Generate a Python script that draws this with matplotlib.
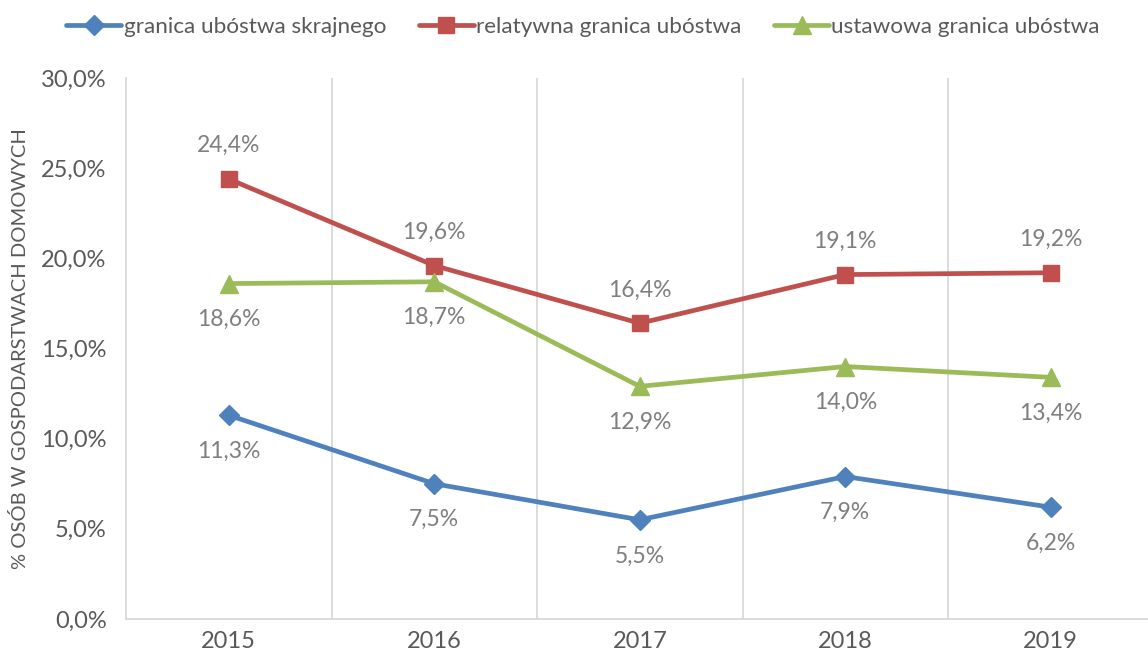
import matplotlib
matplotlib.use("Agg")
import matplotlib.pyplot as plt
from matplotlib.ticker import FuncFormatter, MultipleLocator

years = ["2015", "2016", "2017", "2018", "2019"]
skrajne = [11.3, 7.5, 5.5, 7.9, 6.2]
relatywna = [24.4, 19.6, 16.4, 19.1, 19.2]
ustawowa = [18.6, 18.7, 12.9, 14.0, 13.4]

plt.rcParams['font.family'] = ['Lato', 'DejaVu Sans']
TXT = '#595959'
LBL = '#7F7F7F'
GRID = '#D9D9D9'

fig = plt.figure(figsize=(11.48, 6.55), dpi=100)
ax = fig.add_axes([126/1148, 1 - 619/655, (1153.5 - 126)/1148, (619 - 78)/655])

x = list(range(len(years)))
series = [
    ("granica ubóstwa skrajnego", skrajne, '#4F81BD', 'D', 10.5, 'below'),
    ("relatywna granica ubóstwa", relatywna, '#C0504D', 's', 12, 'above'),
    ("ustawowa granica ubóstwa", ustawowa, '#9BBB59', '^', 12.5, 'below'),
]
for name, vals, col, mk, ms, pos in series:
    ax.plot(x, vals, color=col, lw=3.4, marker=mk, ms=ms, label=name, zorder=3,
            solid_capstyle='round')
    for xi, v in zip(x, vals):
        off = 1.85 if pos == 'above' else -2.0
        ax.text(xi, v + off, f"{v:.1f}%".replace('.', ','), ha='center', va='center',
                fontsize=16.5, color=LBL)

ax.set_xlim(-0.5, 4.5)
ax.set_ylim(0, 30)
ax.set_xticks(x)
ax.set_xticklabels(years)
ax.yaxis.set_major_locator(MultipleLocator(5))
ax.yaxis.set_major_formatter(FuncFormatter(lambda v, p: f"{v:.1f}%".replace('.', ',')))
for gx in [0.5, 1.5, 2.5, 3.5]:
    ax.axvline(gx, color=GRID, lw=1.3, zorder=1)
for s in ['top', 'right']:
    ax.spines[s].set_visible(False)
for s in ['left', 'bottom']:
    ax.spines[s].set_color(GRID)
    ax.spines[s].set_linewidth(1.3)
ax.tick_params(axis='both', length=0, labelsize=17, colors=TXT)
ax.tick_params(axis='x', pad=9)
ax.tick_params(axis='y', pad=14)
ax.set_ylabel("% OSÓB W GOSPODARSTWACH DOMOWYCH", fontsize=14.5, color=TXT)
ax.yaxis.set_label_coords(-97/1027, 0.5)

fig.legend(loc='center', bbox_to_anchor=(583/1148, 1 - 27/655), ncol=3, frameon=False,
           fontsize=16.2, labelcolor=TXT, handlelength=2.45, handletextpad=0.1,
           columnspacing=1.45)

fig.savefig("out.png", dpi=100)
